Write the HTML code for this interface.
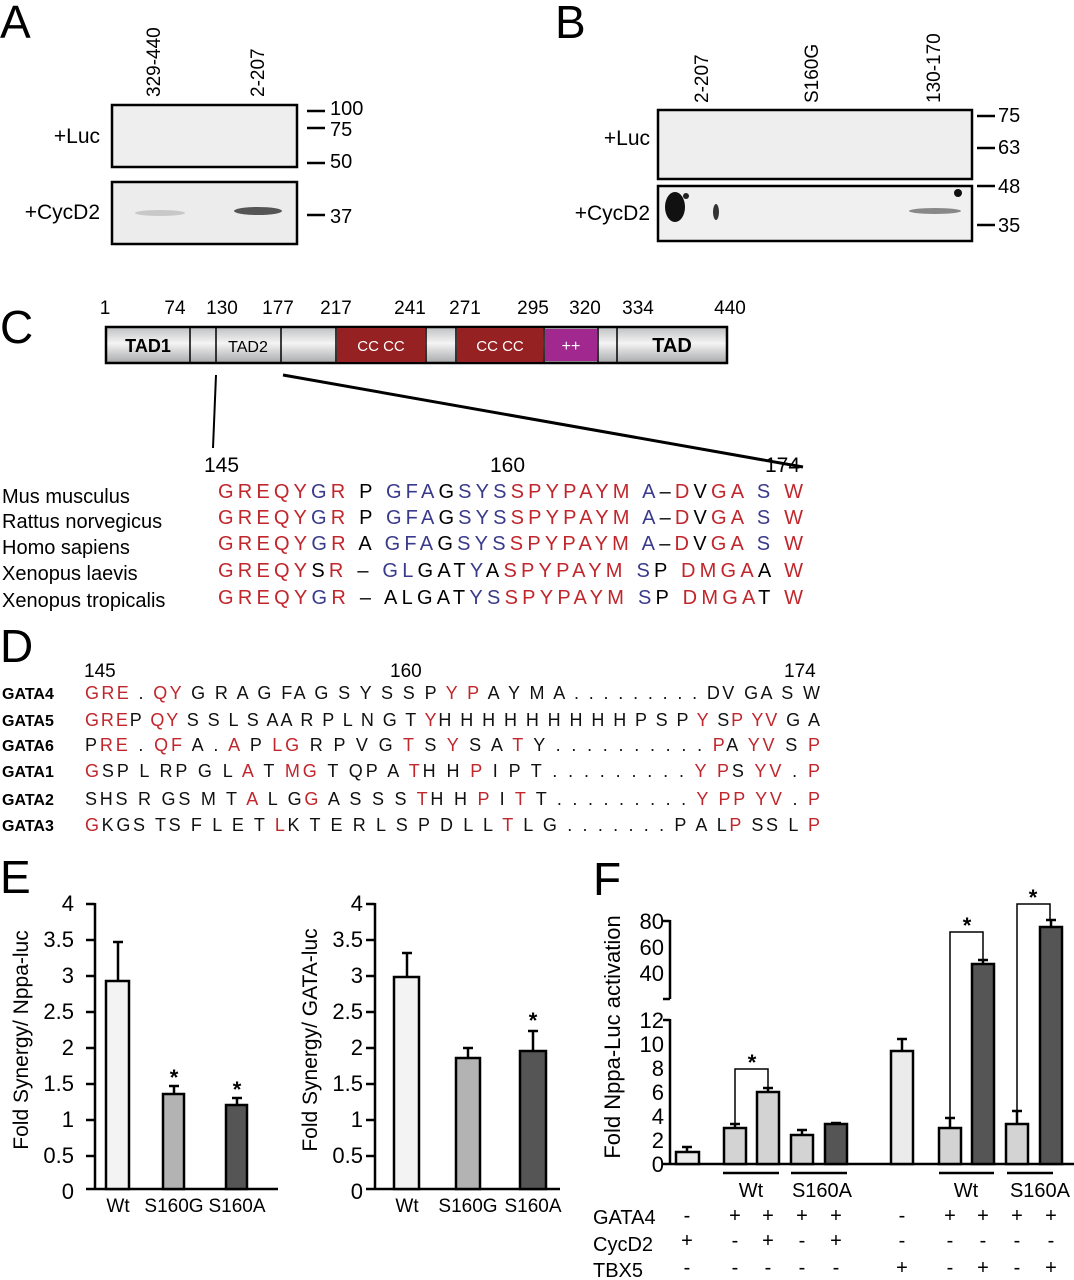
<!DOCTYPE html>
<html><head><meta charset="utf-8"><style>
html,body{margin:0;padding:0;background:#fff;}
svg{display:block;font-family:"Liberation Sans",sans-serif;}
</style></head><body>
<svg width="1074" height="1280" viewBox="0 0 1074 1280" xmlns="http://www.w3.org/2000/svg">
<!-- Panel A -->
<text x="0" y="38" font-size="46">A</text>
<text transform="translate(160,97) rotate(-90)" font-size="19">329-440</text>
<text transform="translate(264,97) rotate(-90)" font-size="19">2-207</text>
<rect x="112" y="105" width="185" height="62" fill="#eeeeee" stroke="#000" stroke-width="2.5"/>
<rect x="112" y="182" width="185" height="62" fill="#ececec" stroke="#000" stroke-width="2.5"/>
<ellipse cx="160" cy="213" rx="25" ry="3" fill="#c8c8c8"/>
<ellipse cx="258" cy="211" rx="24" ry="4" fill="#555"/>
<text x="100" y="143" font-size="21" text-anchor="end">+Luc</text>
<text x="100" y="219" font-size="21" text-anchor="end">+CycD2</text>
<g stroke="#000" stroke-width="2.5"><line x1="307" y1="111" x2="325" y2="111"/><line x1="307" y1="128" x2="325" y2="128"/><line x1="307" y1="163" x2="325" y2="163"/><line x1="307" y1="215" x2="325" y2="215"/></g>
<g font-size="20"><text x="330" y="115">100</text><text x="330" y="136">75</text><text x="330" y="168">50</text><text x="330" y="223">37</text></g>
<!-- Panel B -->
<text x="555" y="38" font-size="46">B</text>
<text transform="translate(708,103) rotate(-90)" font-size="19">2-207</text>
<text transform="translate(818,103) rotate(-90)" font-size="19">S160G</text>
<text transform="translate(940,103) rotate(-90)" font-size="19">130-170</text>
<rect x="658" y="110" width="314" height="69" fill="#eeeeee" stroke="#000" stroke-width="2.5"/>
<rect x="658" y="186" width="314" height="55" fill="#f0f0f0" stroke="#000" stroke-width="2.5"/>
<ellipse cx="675" cy="207" rx="10" ry="15" fill="#111"/>
<circle cx="686" cy="196" r="3" fill="#222"/>
<ellipse cx="716" cy="212" rx="3" ry="8" fill="#333"/>
<circle cx="958" cy="193" r="4" fill="#111"/>
<ellipse cx="935" cy="211" rx="26" ry="3" fill="#888"/>
<text x="650" y="145" font-size="21" text-anchor="end">+Luc</text>
<text x="650" y="220" font-size="21" text-anchor="end">+CycD2</text>
<g stroke="#000" stroke-width="2.5"><line x1="977" y1="116" x2="995" y2="116"/><line x1="977" y1="148" x2="995" y2="148"/><line x1="977" y1="186" x2="995" y2="186"/><line x1="977" y1="225" x2="995" y2="225"/></g>
<g font-size="20"><text x="998" y="122">75</text><text x="998" y="154">63</text><text x="998" y="193">48</text><text x="998" y="232">35</text></g>
<!-- Panel C -->
<text x="0" y="343" font-size="46">C</text>
<g font-size="19" text-anchor="middle"><text x="105" y="314">1</text><text x="175" y="314">74</text><text x="222" y="314">130</text><text x="278" y="314">177</text><text x="336" y="314">217</text><text x="410" y="314">241</text><text x="465" y="314">271</text><text x="533" y="314">295</text><text x="585" y="314">320</text><text x="638" y="314">334</text><text x="730" y="314">440</text></g>
<defs><linearGradient id="gr" x1="0" y1="0" x2="0" y2="1"><stop offset="0" stop-color="#bfc0c2"/><stop offset="0.45" stop-color="#f4f4f4"/><stop offset="1" stop-color="#a8a9ab"/></linearGradient></defs>
<rect x="106" y="327" width="621" height="36" fill="url(#gr)" stroke="#000" stroke-width="2.5"/>
<rect x="337" y="328" width="88" height="34" fill="#952123"/>
<rect x="457" y="328" width="86" height="34" fill="#952123"/>
<rect x="545" y="329" width="52" height="32" fill="#a0288f"/>
<g stroke="#000" stroke-width="1.5"><line x1="190" y1="327" x2="190" y2="363"/><line x1="216" y1="327" x2="216" y2="363"/><line x1="281" y1="327" x2="281" y2="363"/><line x1="336" y1="327" x2="336" y2="363"/><line x1="426" y1="327" x2="426" y2="363"/><line x1="456" y1="327" x2="456" y2="363"/><line x1="544" y1="327" x2="544" y2="363"/><line x1="598" y1="327" x2="598" y2="363"/><line x1="617" y1="327" x2="617" y2="363"/></g>
<text x="148" y="352" font-size="18" font-weight="bold" text-anchor="middle">TAD1</text>
<text x="248" y="352" font-size="16" text-anchor="middle">TAD2</text>
<text x="381" y="351" font-size="15" fill="#fff" text-anchor="middle">CC CC</text>
<text x="500" y="351" font-size="15" fill="#fff" text-anchor="middle">CC CC</text>
<text x="571" y="351" font-size="16" fill="#fff" text-anchor="middle">++</text>
<text x="672" y="352" font-size="20" font-weight="bold" text-anchor="middle">TAD</text>
<line x1="216" y1="375" x2="213" y2="448" stroke="#000" stroke-width="2"/>
<line x1="283" y1="375" x2="803" y2="467" stroke="#000" stroke-width="3"/>
<g font-size="21"><text x="204" y="472">145</text><text x="490" y="472">160</text><text x="765" y="472">174</text></g>
<g font-size="20"><text x="2" y="503">Mus musculus</text><text x="2" y="528">Rattus norvegicus</text><text x="2" y="554">Homo sapiens</text><text x="2" y="580">Xenopus laevis</text><text x="2" y="607">Xenopus tropicalis</text></g>
<g font-size="20">
<text x="218" y="498" textLength="585" lengthAdjust="spacing"><tspan fill="#c0262c">GREQY</tspan><tspan fill="#3a3a8c">G</tspan><tspan fill="#c0262c">R</tspan> P <tspan fill="#3a3a8c">GFA</tspan>G<tspan fill="#3a3a8c">SYS</tspan><tspan fill="#c0262c">SPYPAYM</tspan> <tspan fill="#3a3a8c">A</tspan>–<tspan fill="#c0262c">D</tspan>V<tspan fill="#c0262c">GA</tspan> <tspan fill="#3a3a8c">S</tspan> <tspan fill="#c0262c">W</tspan></text>
<text x="218" y="524" textLength="585" lengthAdjust="spacing"><tspan fill="#c0262c">GREQY</tspan><tspan fill="#3a3a8c">G</tspan><tspan fill="#c0262c">R</tspan> P <tspan fill="#3a3a8c">GFA</tspan>G<tspan fill="#3a3a8c">SYS</tspan><tspan fill="#c0262c">SPYPAYM</tspan> <tspan fill="#3a3a8c">A</tspan>–<tspan fill="#c0262c">D</tspan>V<tspan fill="#c0262c">GA</tspan> <tspan fill="#3a3a8c">S</tspan> <tspan fill="#c0262c">W</tspan></text>
<text x="218" y="550" textLength="585" lengthAdjust="spacing"><tspan fill="#c0262c">GREQY</tspan><tspan fill="#3a3a8c">G</tspan><tspan fill="#c0262c">R</tspan> A <tspan fill="#3a3a8c">GFA</tspan>G<tspan fill="#3a3a8c">SYS</tspan><tspan fill="#c0262c">SPYPAYM</tspan> <tspan fill="#3a3a8c">A</tspan>–<tspan fill="#c0262c">D</tspan>V<tspan fill="#c0262c">GA</tspan> <tspan fill="#3a3a8c">S</tspan> <tspan fill="#c0262c">W</tspan></text>
<text x="218" y="577" textLength="585" lengthAdjust="spacing"><tspan fill="#c0262c">GREQY</tspan>S<tspan fill="#c0262c">R</tspan> – <tspan fill="#3a3a8c">GL</tspan>GAT<tspan fill="#3a3a8c">Y</tspan>A<tspan fill="#c0262c">SPYPAYM</tspan> <tspan fill="#3a3a8c">S</tspan>P <tspan fill="#c0262c">DMGA</tspan>A <tspan fill="#c0262c">W</tspan></text>
<text x="218" y="604" textLength="585" lengthAdjust="spacing"><tspan fill="#c0262c">GREQY</tspan><tspan fill="#3a3a8c">G</tspan><tspan fill="#c0262c">R</tspan> – ALGAT<tspan fill="#3a3a8c">YS</tspan><tspan fill="#c0262c">SPYPAYM</tspan> <tspan fill="#3a3a8c">S</tspan>P <tspan fill="#c0262c">DMGA</tspan>T <tspan fill="#c0262c">W</tspan></text>
</g>
<!-- Panel D -->
<text x="0" y="662" font-size="46">D</text>
<g font-size="19"><text x="84" y="677">145</text><text x="390" y="677">160</text><text x="784" y="677">174</text></g>
<g font-size="16" font-weight="bold"><text x="2" y="699">GATA4</text><text x="2" y="726">GATA5</text><text x="2" y="751">GATA6</text><text x="2" y="777">GATA1</text><text x="2" y="805">GATA2</text><text x="2" y="831">GATA3</text></g>
<g font-size="18" fill="#111">
<text x="85" y="699" textLength="735" lengthAdjust="spacing"><tspan fill="#c0262c">GRE</tspan> . <tspan fill="#c0262c">QY</tspan> G R A G FA G S Y S S P <tspan fill="#c0262c">Y P</tspan> A Y M A . . . . . . . . . DV GA S W</text>
<text x="85" y="726" textLength="735" lengthAdjust="spacing"><tspan fill="#c0262c">GRE</tspan>P <tspan fill="#c0262c">QY</tspan> S S L S AA R P L N G T <tspan fill="#c0262c">Y</tspan>H H H H H H H H H P S P <tspan fill="#c0262c">Y</tspan> S<tspan fill="#c0262c">P YV</tspan> G A</text>
<text x="85" y="751" textLength="735" lengthAdjust="spacing">P<tspan fill="#c0262c">RE</tspan> . <tspan fill="#c0262c">QF</tspan> A . <tspan fill="#c0262c">A</tspan> P <tspan fill="#c0262c">LG</tspan> R P V G <tspan fill="#c0262c">T</tspan> S <tspan fill="#c0262c">Y</tspan> S A <tspan fill="#c0262c">T</tspan> Y . . . . . . . . . . <tspan fill="#c0262c">P</tspan>A <tspan fill="#c0262c">YV</tspan> S <tspan fill="#c0262c">P</tspan></text>
<text x="85" y="777" textLength="735" lengthAdjust="spacing"><tspan fill="#c0262c">G</tspan>SP L RP G L <tspan fill="#c0262c">A</tspan> T <tspan fill="#c0262c">MG</tspan> T QP A <tspan fill="#c0262c">T</tspan>H H <tspan fill="#c0262c">P</tspan> I P T . . . . . . . . . <tspan fill="#c0262c">Y P</tspan>S <tspan fill="#c0262c">YV</tspan> . <tspan fill="#c0262c">P</tspan></text>
<text x="85" y="805" textLength="735" lengthAdjust="spacing">SHS R GS M T <tspan fill="#c0262c">A</tspan> L G<tspan fill="#c0262c">G</tspan> A S S S <tspan fill="#c0262c">T</tspan>H H <tspan fill="#c0262c">P</tspan> I <tspan fill="#c0262c">T</tspan> T . . . . . . . . . <tspan fill="#c0262c">Y PP YV</tspan> . <tspan fill="#c0262c">P</tspan></text>
<text x="85" y="831" textLength="735" lengthAdjust="spacing"><tspan fill="#c0262c">G</tspan>KGS TS F L E T <tspan fill="#c0262c">L</tspan>K T E R L S P D L L <tspan fill="#c0262c">T</tspan> L G . . . . . . . P A L<tspan fill="#c0262c">P</tspan> SS L <tspan fill="#c0262c">P</tspan></text>
</g>
<!-- Panel E left -->
<text x="0" y="893" font-size="46">E</text>
<g font-size="22" text-anchor="end">
<text x="74" y="911">4</text><text x="74" y="947">3.5</text><text x="74" y="983">3</text><text x="74" y="1019">2.5</text><text x="74" y="1055">2</text><text x="74" y="1091">1.5</text><text x="74" y="1127">1</text><text x="74" y="1163">0.5</text><text x="74" y="1199">0</text>
</g>
<g stroke="#000" stroke-width="2.5" fill="none">
<line x1="95" y1="903" x2="95" y2="1190"/><line x1="86" y1="1189" x2="278" y2="1189"/>
<line x1="86" y1="904" x2="95" y2="904"/><line x1="86" y1="940" x2="95" y2="940"/><line x1="86" y1="976" x2="95" y2="976"/><line x1="86" y1="1012" x2="95" y2="1012"/><line x1="86" y1="1048" x2="95" y2="1048"/><line x1="86" y1="1084" x2="95" y2="1084"/><line x1="86" y1="1120" x2="95" y2="1120"/><line x1="86" y1="1156" x2="95" y2="1156"/>
<line x1="118" y1="981" x2="118" y2="942"/><line x1="113" y1="942" x2="123" y2="942"/>
<line x1="174" y1="1094" x2="174" y2="1086"/><line x1="169" y1="1086" x2="179" y2="1086"/>
<line x1="237" y1="1105" x2="237" y2="1098"/><line x1="232" y1="1098" x2="242" y2="1098"/>
</g>
<rect x="106" y="981" width="23" height="208" fill="#f3f3f3" stroke="#000" stroke-width="2.5"/>
<rect x="163" y="1094" width="21" height="95" fill="#b3b3b3" stroke="#000" stroke-width="2.5"/>
<rect x="226" y="1105" width="21" height="84" fill="#555" stroke="#000" stroke-width="2.5"/>
<g font-size="22" font-weight="bold" text-anchor="middle"><text x="174" y="1085">*</text><text x="237" y="1097">*</text></g>
<g font-size="19" text-anchor="middle"><text x="118" y="1212">Wt</text><text x="174" y="1212">S160G</text><text x="237" y="1212">S160A</text></g>
<text transform="translate(28,1040) rotate(-90)" font-size="21" text-anchor="middle">Fold Synergy/ Nppa-luc</text>
<!-- Panel E right -->
<g font-size="22" text-anchor="end">
<text x="363" y="911">4</text><text x="363" y="947">3.5</text><text x="363" y="983">3</text><text x="363" y="1019">2.5</text><text x="363" y="1055">2</text><text x="363" y="1091">1.5</text><text x="363" y="1127">1</text><text x="363" y="1163">0.5</text><text x="363" y="1199">0</text>
</g>
<g stroke="#000" stroke-width="2.5" fill="none">
<line x1="375" y1="903" x2="375" y2="1190"/><line x1="366" y1="1189" x2="560" y2="1189"/>
<line x1="366" y1="904" x2="375" y2="904"/><line x1="366" y1="940" x2="375" y2="940"/><line x1="366" y1="976" x2="375" y2="976"/><line x1="366" y1="1012" x2="375" y2="1012"/><line x1="366" y1="1048" x2="375" y2="1048"/><line x1="366" y1="1084" x2="375" y2="1084"/><line x1="366" y1="1120" x2="375" y2="1120"/><line x1="366" y1="1156" x2="375" y2="1156"/>
<line x1="407" y1="977" x2="407" y2="953"/><line x1="402" y1="953" x2="412" y2="953"/>
<line x1="468" y1="1058" x2="468" y2="1048"/><line x1="463" y1="1048" x2="473" y2="1048"/>
<line x1="533" y1="1051" x2="533" y2="1031"/><line x1="528" y1="1031" x2="538" y2="1031"/>
</g>
<rect x="394" y="977" width="25" height="212" fill="#f3f3f3" stroke="#000" stroke-width="2.5"/>
<rect x="456" y="1058" width="24" height="131" fill="#b3b3b3" stroke="#000" stroke-width="2.5"/>
<rect x="520" y="1051" width="26" height="138" fill="#555" stroke="#000" stroke-width="2.5"/>
<text x="533" y="1028" font-size="22" font-weight="bold" text-anchor="middle">*</text>
<g font-size="19" text-anchor="middle"><text x="407" y="1212">Wt</text><text x="468" y="1212">S160G</text><text x="533" y="1212">S160A</text></g>
<text transform="translate(317,1040) rotate(-90)" font-size="21" text-anchor="middle">Fold Synergy/ GATA-luc</text>
<!-- Panel F -->
<text x="593" y="895" font-size="46">F</text>
<text transform="translate(620,1037) rotate(-90)" font-size="22" text-anchor="middle">Fold Nppa-Luc activation</text>
<g font-size="22" text-anchor="end">
<text x="664" y="929">80</text><text x="664" y="955">60</text><text x="664" y="981">40</text>
<text x="664" y="1028">12</text><text x="664" y="1052">10</text><text x="664" y="1076">8</text><text x="664" y="1100">6</text><text x="664" y="1124">4</text><text x="664" y="1148">2</text><text x="664" y="1172">0</text>
</g>
<g stroke="#000" stroke-width="2.5" fill="none">
<line x1="670" y1="920" x2="670" y2="999"/><line x1="670" y1="1019" x2="670" y2="1165"/>
<line x1="663" y1="921" x2="670" y2="921"/><line x1="663" y1="999" x2="670" y2="999"/><line x1="663" y1="1020" x2="670" y2="1020"/>
<line x1="663" y1="1164" x2="1074" y2="1164"/>
<line x1="687" y1="1152" x2="687" y2="1147"/><line x1="682" y1="1147" x2="692" y2="1147"/>
<line x1="735" y1="1128" x2="735" y2="1124"/><line x1="730" y1="1124" x2="740" y2="1124"/>
<line x1="768" y1="1092" x2="768" y2="1088"/><line x1="763" y1="1088" x2="773" y2="1088"/>
<line x1="802" y1="1135" x2="802" y2="1130"/><line x1="797" y1="1130" x2="807" y2="1130"/>
<line x1="836" y1="1124" x2="836" y2="1123"/><line x1="831" y1="1123" x2="841" y2="1123"/>
<line x1="902" y1="1051" x2="902" y2="1039"/><line x1="897" y1="1039" x2="907" y2="1039"/>
<line x1="950" y1="1128" x2="950" y2="1118"/><line x1="945" y1="1118" x2="955" y2="1118"/>
<line x1="983" y1="964" x2="983" y2="960"/><line x1="978" y1="960" x2="988" y2="960"/>
<line x1="1017" y1="1124" x2="1017" y2="1111"/><line x1="1012" y1="1111" x2="1022" y2="1111"/>
<line x1="1051" y1="927" x2="1051" y2="920"/><line x1="1046" y1="920" x2="1056" y2="920"/>
</g>
<g stroke="#000" stroke-width="2.5">
<rect x="676" y="1152" width="23" height="12" fill="#ebebeb"/>
<rect x="724" y="1128" width="22" height="36" fill="#d3d3d3"/>
<rect x="757" y="1092" width="22" height="72" fill="#d3d3d3"/>
<rect x="791" y="1135" width="22" height="29" fill="#d3d3d3"/>
<rect x="825" y="1124" width="22" height="40" fill="#555"/>
<rect x="891" y="1051" width="22" height="113" fill="#ebebeb"/>
<rect x="939" y="1128" width="22" height="36" fill="#d3d3d3"/>
<rect x="972" y="964" width="22" height="200" fill="#555"/>
<rect x="1006" y="1124" width="22" height="40" fill="#d3d3d3"/>
<rect x="1040" y="927" width="22" height="237" fill="#555"/>
</g>
<g stroke="#000" stroke-width="1.5" fill="none">
<polyline points="735,1124 735,1069 768,1069 768,1088"/>
<polyline points="950,1118 950,932 983,932 983,960"/>
<polyline points="1017,1111 1017,904 1050,904 1050,920"/>
</g>
<g font-size="22" font-weight="bold" text-anchor="middle"><text x="752" y="1070">*</text><text x="967" y="933">*</text><text x="1033" y="905">*</text></g>
<g stroke="#000" stroke-width="2.5"><line x1="723" y1="1173" x2="779" y2="1173"/><line x1="791" y1="1173" x2="847" y2="1173"/><line x1="939" y1="1173" x2="994" y2="1173"/><line x1="1007" y1="1173" x2="1053" y2="1173"/></g>
<g font-size="20" text-anchor="middle"><text x="751" y="1197">Wt</text><text x="822" y="1197">S160A</text><text x="966" y="1197">Wt</text><text x="1040" y="1197">S160A</text></g>
<g font-size="20"><text x="593" y="1224">GATA4</text><text x="593" y="1251">CycD2</text><text x="593" y="1277">TBX5</text></g>
<g font-size="20" text-anchor="middle">
<text x="687" y="1222">-</text><text x="735" y="1222">+</text><text x="768" y="1222">+</text><text x="802" y="1222">+</text><text x="836" y="1222">+</text><text x="902" y="1222">-</text><text x="950" y="1222">+</text><text x="983" y="1222">+</text><text x="1017" y="1222">+</text><text x="1051" y="1222">+</text>
<text x="687" y="1247">+</text><text x="735" y="1247">-</text><text x="768" y="1247">+</text><text x="802" y="1247">-</text><text x="836" y="1247">+</text><text x="902" y="1247">-</text><text x="950" y="1247">-</text><text x="983" y="1247">-</text><text x="1017" y="1247">-</text><text x="1051" y="1247">-</text>
<text x="687" y="1274">-</text><text x="735" y="1274">-</text><text x="768" y="1274">-</text><text x="802" y="1274">-</text><text x="836" y="1274">-</text><text x="902" y="1274">+</text><text x="950" y="1274">-</text><text x="983" y="1274">+</text><text x="1017" y="1274">-</text><text x="1051" y="1274">+</text>
</g>
</svg>
</body></html>
